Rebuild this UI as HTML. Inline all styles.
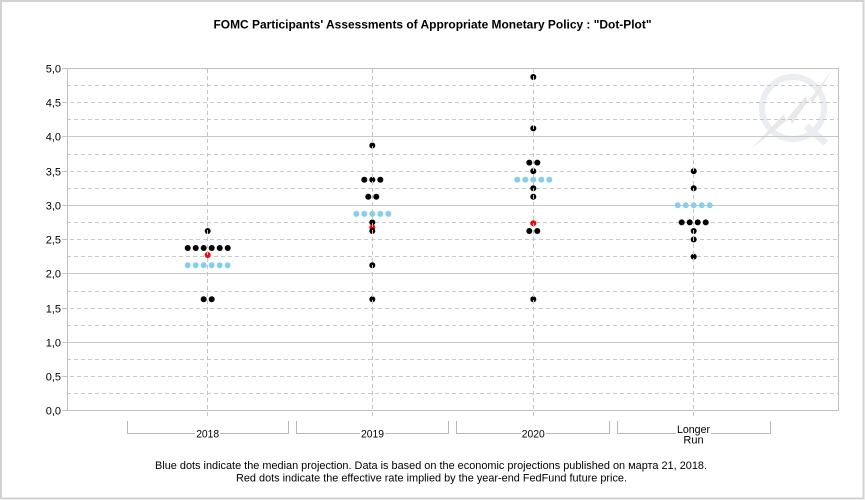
<!DOCTYPE html>
<html>
<head>
<meta charset="utf-8">
<style>
  html,body{margin:0;padding:0;background:#fff;}
  svg{display:block;}
  text{font-family:"Liberation Sans","DejaVu Sans",sans-serif;fill:#000;}
</style>
</head>
<body>
<svg width="865" height="500" viewBox="0 0 865 500" xmlns="http://www.w3.org/2000/svg">
  <rect x="0" y="0" width="865" height="500" fill="#fff"/>
  <rect x="1" y="1" width="862.5" height="497.5" fill="none" stroke="#d2d2d2" stroke-width="2"/>

  <!-- title -->
  <text x="432.5" y="28.5" font-size="12" font-weight="bold" text-anchor="middle" textLength="438" lengthAdjust="spacingAndGlyphs">FOMC Participants' Assessments of Appropriate Monetary Policy : "Dot-Plot"</text>

  <!-- watermark -->
  <g>
    <circle cx="793" cy="108" r="31" fill="none" stroke="#eaedf1" stroke-width="6"/>
    <line x1="806" y1="126" x2="826" y2="143" stroke="#eaedf1" stroke-width="7"/>
    <polygon points="752,148 784,114 786,120 806,96 808,102 832,70 812,104 810,98 792,124 790,118" fill="#e8e8e8"/>
  </g>

  <!-- dashed horizontal grid -->
  <g stroke="#c8c8c8" stroke-width="1" stroke-dasharray="4,3" fill="none">
    <line x1="67" y1="393.5" x2="838" y2="393.5"/>
    <line x1="63" y1="376.5" x2="838" y2="376.5"/>
    <line x1="67" y1="359.5" x2="838" y2="359.5"/>
    <line x1="67" y1="325.5" x2="838" y2="325.5"/>
    <line x1="63" y1="308.5" x2="838" y2="308.5"/>
    <line x1="67" y1="291.5" x2="838" y2="291.5"/>
    <line x1="67" y1="256.5" x2="838" y2="256.5"/>
    <line x1="63" y1="239.5" x2="838" y2="239.5"/>
    <line x1="67" y1="222.5" x2="838" y2="222.5"/>
    <line x1="67" y1="188.5" x2="838" y2="188.5"/>
    <line x1="63" y1="171.5" x2="838" y2="171.5"/>
    <line x1="67" y1="154.5" x2="838" y2="154.5"/>
    <line x1="67" y1="119.5" x2="838" y2="119.5"/>
    <line x1="63" y1="102.5" x2="838" y2="102.5"/>
    <line x1="67" y1="85.5" x2="838" y2="85.5"/>
  </g>
  <!-- solid horizontal grid (integers) -->
  <g stroke="#c8c8c8" stroke-width="1" fill="none">
    <line x1="62" y1="342.5" x2="838" y2="342.5"/>
    <line x1="62" y1="273.5" x2="838" y2="273.5"/>
    <line x1="62" y1="205.5" x2="838" y2="205.5"/>
    <line x1="62" y1="136.5" x2="838" y2="136.5"/>
  </g>
  <!-- ticks -->
  <g stroke="#c0c0c0" stroke-width="1">
    <line x1="62" y1="410.5" x2="67.5" y2="410.5"/>
    <line x1="62" y1="376.5" x2="67.5" y2="376.5"/>
    <line x1="62" y1="308.5" x2="67.5" y2="308.5"/>
    <line x1="62" y1="239.5" x2="67.5" y2="239.5"/>
    <line x1="62" y1="171.5" x2="67.5" y2="171.5"/>
    <line x1="62" y1="102.5" x2="67.5" y2="102.5"/>
    <line x1="62" y1="68.5" x2="67.5" y2="68.5"/>
  </g>
  <!-- plot frame -->
  <rect x="67.5" y="68.5" width="771" height="342" fill="none" stroke="#c0c0c0" stroke-width="1"/>

  <!-- y labels -->
  <g font-size="11" text-anchor="end">
    <text x="61" y="72.5">5,0</text>
    <text x="61" y="106.5">4,5</text>
    <text x="61" y="140.5">4,0</text>
    <text x="61" y="175.5">3,5</text>
    <text x="61" y="209.5">3,0</text>
    <text x="61" y="243.5">2,5</text>
    <text x="61" y="277.5">2,0</text>
    <text x="61" y="312.5">1,5</text>
    <text x="61" y="346.5">1,0</text>
    <text x="61" y="380.5">0,5</text>
    <text x="61" y="414.5">0,0</text>
  </g>

  <!-- dots -->
  <g>
    <!-- 2018 cx=207.7 -->
    <g fill="#000">
      <circle cx="207.7" cy="231" r="3"/>
      <circle cx="187.7" cy="248" r="3"/><circle cx="195.7" cy="248" r="3"/><circle cx="203.7" cy="248" r="3"/>
      <circle cx="211.7" cy="248" r="3"/><circle cx="219.7" cy="248" r="3"/><circle cx="227.7" cy="248" r="3"/>
      <circle cx="203.7" cy="299.3" r="3"/><circle cx="211.7" cy="299.3" r="3"/>
    </g>
    <circle cx="207.7" cy="255" r="3" fill="#ff0000"/>
    <g fill="#87ceeb">
      <circle cx="187.7" cy="265.2" r="3"/><circle cx="195.7" cy="265.2" r="3"/><circle cx="203.7" cy="265.2" r="3"/>
      <circle cx="211.7" cy="265.2" r="3"/><circle cx="219.7" cy="265.2" r="3"/><circle cx="227.7" cy="265.2" r="3"/>
    </g>

    <!-- 2019 cx=372.3 -->
    <g fill="#000">
      <circle cx="372.3" cy="145.5" r="3"/>
      <circle cx="364.3" cy="179.7" r="3"/><circle cx="372.3" cy="179.7" r="3"/><circle cx="380.3" cy="179.7" r="3"/>
      <circle cx="368.3" cy="196.8" r="3"/><circle cx="376.3" cy="196.8" r="3"/>
      <circle cx="372.3" cy="222.4" r="3"/>
    </g>
    <g fill="#87ceeb">
      <circle cx="356.3" cy="213.9" r="3"/><circle cx="364.3" cy="213.9" r="3"/><circle cx="372.3" cy="213.9" r="3"/>
      <circle cx="380.3" cy="213.9" r="3"/><circle cx="388.3" cy="213.9" r="3"/>
    </g>
    <circle cx="372.3" cy="227.5" r="3" fill="#ff0000"/>
    <g fill="#000">
      <circle cx="372.3" cy="231" r="3"/>
      <circle cx="372.3" cy="265.2" r="3"/>
      <circle cx="372.3" cy="299.3" r="3"/>
    </g>

    <!-- 2020 cx=533.3 -->
    <g fill="#000">
      <circle cx="533.3" cy="77" r="3"/>
      <circle cx="533.3" cy="128.4" r="3"/>
      <circle cx="529.3" cy="162.6" r="3"/><circle cx="537.3" cy="162.6" r="3"/>
      <circle cx="533.3" cy="171.1" r="3"/>
      <circle cx="533.3" cy="188.2" r="3"/>
      <circle cx="533.3" cy="196.8" r="3"/>
      <circle cx="529.3" cy="231" r="3"/><circle cx="537.3" cy="231" r="3"/>
      <circle cx="533.3" cy="299.3" r="3"/>
    </g>
    <g fill="#87ceeb">
      <circle cx="517.3" cy="179.7" r="3"/><circle cx="525.3" cy="179.7" r="3"/><circle cx="533.3" cy="179.7" r="3"/>
      <circle cx="541.3" cy="179.7" r="3"/><circle cx="549.3" cy="179.7" r="3"/>
    </g>
    <circle cx="533.3" cy="223.3" r="3" fill="#ff0000"/>

    <!-- Longer Run cx=693.7 -->
    <g fill="#000">
      <circle cx="693.7" cy="171.1" r="3"/>
      <circle cx="693.7" cy="188.2" r="3"/>
      <circle cx="681.7" cy="222.4" r="3"/><circle cx="689.7" cy="222.4" r="3"/><circle cx="697.7" cy="222.4" r="3"/><circle cx="705.7" cy="222.4" r="3"/>
      <circle cx="693.7" cy="231" r="3"/>
      <circle cx="693.7" cy="239.5" r="3"/>
      <circle cx="693.7" cy="256.6" r="3"/>
    </g>
    <g fill="#87ceeb">
      <circle cx="677.7" cy="205.3" r="3"/><circle cx="685.7" cy="205.3" r="3"/><circle cx="693.7" cy="205.3" r="3"/>
      <circle cx="701.7" cy="205.3" r="3"/><circle cx="709.7" cy="205.3" r="3"/>
    </g>
  </g>

  <!-- vertical category dashed lines (drawn over dots) -->
  <g stroke="#c4c4c4" stroke-width="1" stroke-dasharray="4,3" fill="none">
    <line x1="207.5" y1="69" x2="207.5" y2="416"/>
    <line x1="372.5" y1="69" x2="372.5" y2="416"/>
    <line x1="533.5" y1="69" x2="533.5" y2="416"/>
    <line x1="693.5" y1="69" x2="693.5" y2="416"/>
  </g>

  <!-- category brackets -->
  <g stroke="#b8b8b8" stroke-width="1" fill="none">
    <polyline points="127.5,421 127.5,433.5 195,433.5"/>
    <polyline points="220,433.5 288.5,433.5 288.5,421"/>
    <polyline points="296.5,421 296.5,433.5 360,433.5"/>
    <polyline points="385,433.5 448.5,433.5 448.5,421"/>
    <polyline points="456.5,421 456.5,433.5 521,433.5"/>
    <polyline points="546,433.5 609.5,433.5 609.5,421"/>
    <polyline points="617.5,421 617.5,433.5 676,433.5"/>
    <polyline points="711,433.5 770.5,433.5 770.5,421"/>
  </g>
  <g font-size="11" text-anchor="middle">
    <text x="207.7" y="437.5" textLength="23" lengthAdjust="spacingAndGlyphs">2018</text>
    <text x="372.5" y="437.5" textLength="23" lengthAdjust="spacingAndGlyphs">2019</text>
    <text x="533.3" y="437.5" textLength="23" lengthAdjust="spacingAndGlyphs">2020</text>
    <text x="693.5" y="433" textLength="33" lengthAdjust="spacingAndGlyphs">Longer</text>
    <text x="693.5" y="443.5">Run</text>
  </g>

  <!-- footer -->
  <g font-size="11" text-anchor="middle">
    <text x="431" y="469" textLength="552" lengthAdjust="spacingAndGlyphs">Blue dots indicate the median projection. Data is based on the economic projections published on марта 21, 2018.</text>
    <text x="431.5" y="481.3" textLength="391" lengthAdjust="spacingAndGlyphs">Red dots indicate the effective rate implied by the year-end FedFund future price.</text>
  </g>
</svg>
</body>
</html>
